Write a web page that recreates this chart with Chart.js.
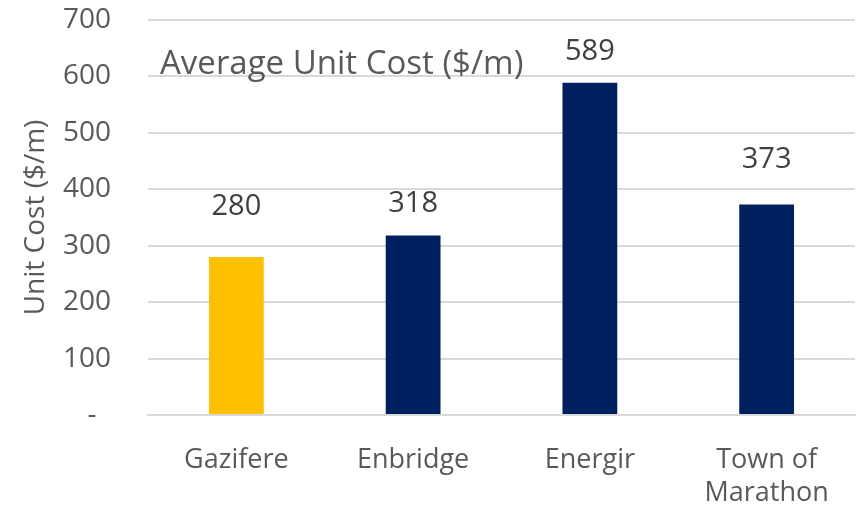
<!DOCTYPE html>
<html>
<head>
<meta charset="utf-8">
<script src="https://cdn.jsdelivr.net/npm/chart.js@4"></script>
<style>
html,body{margin:0;padding:0;background:#fff;}
#wrap{width:858px;height:507px;}
</style>
</head>
<body>
<div id="wrap"><canvas id="c" width="858" height="507"></canvas></div>
<script>
const categories = ['Gazifere', 'Enbridge', 'Energir', ['Town of', 'Marathon']];
const unitCost = [280, 318, 589, 373];
const barColors = ['#FFC000', '#002060', '#002060', '#002060'];
const yTicks = [0, 100, 200, 300, 400, 500, 600, 700];
const chartTitle = 'Average Unit Cost ($/m)';
const yAxisTitle = 'Unit Cost ($/m)';

const FONT = "'Open Sans', sans-serif";

const labelPlugin = {
  id: 'labels',
  afterDatasetsDraw(chart, args, opts) {
    const ctx = chart.ctx;
    const meta = chart.getDatasetMeta(0);
    const offs = opts.offsets || [];
    ctx.save();
    ctx.font = "29px " + FONT;
    ctx.fillStyle = '#404040';
    ctx.textAlign = 'center';
    ctx.textBaseline = 'middle';
    meta.data.forEach((bar, i) => {
      const y = bar.y - (offs[i] !== undefined ? offs[i] : 45);
      ctx.fillText(String(unitCost[i]), bar.x, y);
    });
    ctx.font = "33px " + FONT;
    ctx.fillStyle = '#595959';
    ctx.textAlign = 'left';
    ctx.fillText(chartTitle, chart.chartArea.left + 12, chart.chartArea.top + 45);
    ctx.restore();
  }
};

new Chart(document.getElementById('c'), {
  type: 'bar',
  data: {
    labels: categories,
    datasets: [{
      data: unitCost,
      backgroundColor: barColors,
      barPercentage: 0.31,
      categoryPercentage: 1.0
    }]
  },
  options: {
    responsive: false,
    animation: false,
    layout: { padding: { top: 20, right: 3, left: 0, bottom: 0 } },
    plugins: {
      legend: { display: false }, tooltip: { enabled: false }, title: { display: false },
      labels: { offsets: [50, 32, 31, 45] }
    },
    scales: {
      x: {
        grid: { display: false },
        border: { display: true, color: '#d9d9d9', width: 2 },
        ticks: { color: '#595959', font: { family: FONT, size: 27, lineHeight: 1.25 }, padding: 20, maxRotation: 0, autoSkip: false },
        afterFit(scale) { scale.height = 92; }
      },
      y: {
        min: 0, max: 700,
        afterBuildTicks(scale) { scale.ticks = yTicks.map(v => ({ value: v })); },
        grid: { color: '#d9d9d9', lineWidth: 2, drawTicks: true, tickLength: 37, tickColor: 'rgba(0,0,0,0)' },
        border: { display: false },
        ticks: {
          color: '#595959', font: { family: FONT, size: 28 }, padding: 0,
          callback: (v) => v === 0 ? '-  ' : String(v)
        },
        title: { display: true, text: yAxisTitle, color: '#595959', font: { family: FONT, size: 28 }, padding: { top: 19, bottom: 0 } },
        afterFit(scale) { scale.width = 148; }
      }
    }
  },
  plugins: [labelPlugin]
});
</script>
</body>
</html>
